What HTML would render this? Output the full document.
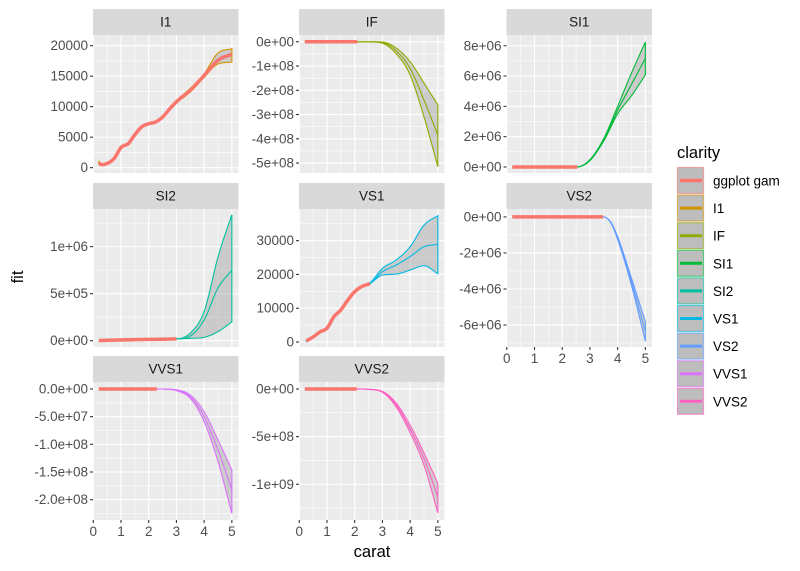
<!DOCTYPE html>
<html><head><meta charset="utf-8">
<style>
body{margin:0;background:#fff;}
svg{display:block;font-family:"Liberation Sans",Arial,sans-serif;}
</style></head>
<body>
<svg id="chart" width="800" height="571" viewBox="0 0 800 571" xmlns="http://www.w3.org/2000/svg"></svg>
<script>
// ---- data ----
const clarities = ["I1","IF","SI1","SI2","VS1","VS2","VVS1","VVS2"];
const colors = ["#D39200","#93AA00","#00BA38","#00C19F","#00B9E3","#619CFF","#DB72FB","#FF61C3"];
const gamColor = "#F8766D";
const legendLabels = ["ggplot gam","I1","IF","SI1","SI2","VS1","VS2","VVS1","VVS2"];
const legendColors = ["#F8766D","#D39200","#93AA00","#00BA38","#00C19F","#00B9E3","#619CFF","#DB72FB","#FF61C3"];
const xTicks = [0,1,2,3,4,5];
const maxCarat = [5.01,2.29,2.54,3.0,2.55,3.48,2.29,2.07];

const xsI1 = [0.2,0.3,0.5,0.75,1,1.1,1.25,1.5,1.75,2,2.25,2.5,2.75,3,3.5,4,4.5,5];
const fitI1 = [800,500,700,1500,3300,3600,3900,5400,6700,7200,7500,8300,9600,10800,12700,15100,17600,18600];
const loI1 = [600,400,600,1400,3200,3500,3800,5300,6600,7100,7400,8200,9400,10600,12400,14800,17000,17300];
const hiI1 = [1000,600,800,1600,3400,3700,4000,5500,6800,7300,7600,8400,9800,11000,13000,15400,18800,19500];

const xsIF = [0.2,2.3,2.5,3,3.5,4,4.5,5];
const fitIF = [0,0,0,-0.03e8,-0.38e8,-1.1e8,-2.4e8,-3.85e8];
const loIF = [0,0,-0.002e8,-0.06e8,-0.5e8,-1.37e8,-3.1e8,-5.15e8];
const hiIF = [0,0,0,-0.01e8,-0.26e8,-0.82e8,-1.7e8,-2.6e8];

const xsSI1 = [0.2,2.54,3,3.5,4,4.5,5];
const fitSI1 = [0,0,0.45e6,1.8e6,3.75e6,5.45e6,7.17e6];
const loSI1 = [0,0,0.42e6,1.72e6,3.5e6,4.7e6,6.07e6];
const hiSI1 = [0,0,0.48e6,1.88e6,4.0e6,6.2e6,8.25e6];

const xsSI2 = [0.2,1,2,3,3.5,4,4.5,5];
const fitSI2 = [2e3,8e3,14e3,20e3,50e3,220e3,560e3,750e3];
const loSI2 = [2e3,8e3,14e3,20e3,25e3,36e3,96e3,200e3];
const hiSI2 = [2e3,8e3,14e3,20e3,80e3,310e3,890e3,1340e3];

const xsVS1 = [0.25,0.5,0.75,1,1.25,1.5,1.75,2,2.25,2.55,3,3.5,4,4.5,5];
const fitVS1 = [300,1500,3000,4100,7500,9500,12400,14900,16400,17400,20800,22800,25300,28200,28900];
const loVS1 = [200,1400,2900,4000,7400,9400,12300,14800,16300,17300,19800,20100,21300,22600,20200];
const hiVS1 = [400,1600,3100,4200,7600,9600,12500,15000,16500,17500,21800,24300,28200,34600,37400];

const xsVS2 = [0.2,3.48,3.75,4,4.5,5];
const fitVS2 = [0,0,-0.3e6,-1.18e6,-3.6e6,-6.35e6];
const loVS2 = [0,0,-0.32e6,-1.25e6,-3.8e6,-6.9e6];
const hiVS2 = [0,0,-0.28e6,-1.1e6,-3.4e6,-5.8e6];

const xsVVS1 = [0.2,2.29,2.6,3,3.5,4,4.5,5];
const fitVVS1 = [0,0,-0.003e8,-0.02e8,-0.14e8,-0.5e8,-1.1e8,-1.82e8];
const loVVS1 = [0,0,-0.004e8,-0.03e8,-0.17e8,-0.59e8,-1.31e8,-2.25e8];
const hiVVS1 = [0,0,-0.002e8,-0.015e8,-0.11e8,-0.41e8,-0.92e8,-1.46e8];

const xsVVS2 = [0.2,2.07,2.5,3,3.5,4,4.5,5];
const fitVVS2 = [0,0,-0.004e9,-0.03e9,-0.17e9,-0.42e9,-0.73e9,-1.13e9];
const loVVS2 = [0,0,-0.005e9,-0.035e9,-0.19e9,-0.46e9,-0.8e9,-1.3e9];
const hiVVS2 = [0,0,-0.003e9,-0.025e9,-0.15e9,-0.38e9,-0.67e9,-0.99e9];

const yTickVals = [
 [0,5000,10000,15000,20000],
 [0,-1e8,-2e8,-3e8,-4e8,-5e8],
 [0,2e6,4e6,6e6,8e6],
 [0,5e5,1e6],
 [0,10000,20000,30000],
 [0,-2e6,-4e6,-6e6],
 [0,-5e7,-1e8,-1.5e8,-2e8],
 [0,-5e8,-1e9]
];
const yTickLabels = [
 ["0","5000","10000","15000","20000"],
 ["0e+00","-1e+08","-2e+08","-3e+08","-4e+08","-5e+08"],
 ["0e+00","2e+06","4e+06","6e+06","8e+06"],
 ["0e+00","5e+05","1e+06"],
 ["0","10000","20000","30000"],
 ["0e+00","-2e+06","-4e+06","-6e+06"],
 ["0.0e+00","-5.0e+07","-1.0e+08","-1.5e+08","-2.0e+08"],
 ["0e+00","-5e+08","-1e+09"]
];
const yDomains = [[-870,21750],[-5.41e8,0.28e8],[-0.40e6,8.71e6],[-0.67e5,14.0e5],[-1480,39380],[-7.22e6,0.44e6],[-2.367e8,0.126e8],[-1.375e9,0.073e9]];
const seriesXs = [xsI1,xsIF,xsSI1,xsSI2,xsVS1,xsVS2,xsVVS1,xsVVS2];
const seriesFit = [fitI1,fitIF,fitSI1,fitSI2,fitVS1,fitVS2,fitVVS1,fitVVS2];
const seriesLo = [loI1,loIF,loSI1,loSI2,loVS1,loVS2,loVVS1,loVVS2];
const seriesHi = [hiI1,hiIF,hiSI1,hiSI2,hiVS1,hiVS2,hiVVS1,hiVVS2];

// ---- layout ----
const NS="http://www.w3.org/2000/svg";
const svg=document.getElementById('chart');
function mk(tag,attrs,parent){const e=document.createElementNS(NS,tag);for(const k in attrs)e.setAttribute(k,attrs[k]);(parent||svg).appendChild(e);return e;}
const colLeft=[93,299,506.5], rowTop=[35,209,382], PW=145.5, PH=138;
const xDom=[-0.01,5.24];
const TICK_FS='13.5';

function monotone(xs,ys,n){
  const m=xs.length, d=[], t=new Array(m);
  for(let i=0;i<m-1;i++) d.push((ys[i+1]-ys[i])/(xs[i+1]-xs[i]));
  t[0]=d[0]; t[m-1]=d[m-2];
  for(let i=1;i<m-1;i++){ if(d[i-1]*d[i]<=0) t[i]=0; else t[i]=(d[i-1]+d[i])/2; }
  for(let i=0;i<m-1;i++){ if(d[i]===0){t[i]=0;t[i+1]=0;continue;} const a=t[i]/d[i],b=t[i+1]/d[i],s=a*a+b*b; if(s>9){const tt=3/Math.sqrt(s);t[i]=tt*a*d[i];t[i+1]=tt*b*d[i];} }
  const out=[];
  for(let i=0;i<m-1;i++){const h=xs[i+1]-xs[i];
    for(let k=0;k<n;k++){const u=k/n,h00=2*u*u*u-3*u*u+1,h10=u*u*u-2*u*u+u,h01=-2*u*u*u+3*u*u,h11=u*u*u-u*u;
      out.push([xs[i]+u*h, h00*ys[i]+h10*h*t[i]+h01*ys[i+1]+h11*h*t[i+1]]);}}
  out.push([xs[m-1],ys[m-1]]);
  return out;
}

clarities.forEach((c,pi)=>{
  const col = pi<3?pi:(pi<6?pi-3:pi-6), row = pi<3?0:(pi<6?1:2);
  const L=colLeft[col], T=rowTop[row];
  const g=mk('g',{});
  
  
  const sx=v=>L+(v-xDom[0])/(xDom[1]-xDom[0])*PW;
  const yd=yDomains[pi];
  const sy=v=>T+PH-(v-yd[0])/(yd[1]-yd[0])*PH;
  const strip=mk('rect',{x:L,y:T-26,width:PW,height:26,fill:'#d9d9d9'},g);
  
  
  const st=mk('text',{x:L+PW/2,y:T-8.5,'text-anchor':'middle','font-size':'13.5',fill:'#1a1a1a'},g); st.textContent=c;
  
  
  const bg=mk('rect',{x:L,y:T,width:PW,height:PH,fill:'#ebebeb'},g);
  
  
  const clipId='clip'+pi; const cp=mk('clipPath',{id:clipId},g); mk('rect',{x:L,y:T,width:PW,height:PH},cp);
  for(let i=0;i<xTicks.length-1;i++){const xv=sx(xTicks[i]+0.5); mk('line',{x1:xv,x2:xv,y1:T,y2:T+PH,stroke:'#fff','stroke-width':0.55},g);}
  const yt=yTickVals[pi];
  const step=Math.abs(yt[1]-yt[0]);
  const mn=Math.min(...yt)-step, mx=Math.max(...yt)+step;
  for(let v=mn+step/2; v<=mx; v+=step){const yy=sy(v); if(yy>T&&yy<T+PH) mk('line',{x1:L,x2:L+PW,y1:yy,y2:yy,stroke:'#fff','stroke-width':0.55},g);}
  xTicks.forEach(t=>{const xv=sx(t); mk('line',{x1:xv,x2:xv,y1:T,y2:T+PH,stroke:'#fff','stroke-width':1.1},g);});
  yt.forEach((t,i)=>{const yy=sy(t); mk('line',{x1:L,x2:L+PW,y1:yy,y2:yy,stroke:'#fff','stroke-width':1.1},g);
    mk('line',{x1:L-3,x2:L,y1:yy,y2:yy,stroke:'#333','stroke-width':1.1},g);
    const tl=mk('text',{x:L-5,y:yy+4.5,'text-anchor':'end','font-size':TICK_FS,fill:'#4d4d4d'},g); tl.textContent=yTickLabels[pi][i];
    
    
  });
  if(row===2 || pi===5){
    xTicks.forEach(t=>{const xv=sx(t); mk('line',{x1:xv,x2:xv,y1:T+PH,y2:T+PH+3,stroke:'#333','stroke-width':1.1},g);
      const tl=mk('text',{x:xv,y:T+PH+16,'text-anchor':'middle','font-size':TICK_FS,fill:'#4d4d4d'},g); tl.textContent=t;
      
      });
  }
  const dg=mk('g',{'clip-path':'url(#'+clipId+')'},g);
  const xs=seriesXs[pi];
  const F=monotone(xs,seriesFit[pi],10), LO=monotone(xs,seriesLo[pi],10), HI=monotone(xs,seriesHi[pi],10);
  const pts=a=>a.map(p=>sx(p[0]).toFixed(2)+','+sy(p[1]).toFixed(2)).join(' ');
  const rib=mk('polygon',{points:pts(HI)+' '+pts(LO.slice().reverse()),fill:'rgba(153,153,153,0.4)',stroke:colors[pi],'stroke-width':1.1},dg);
  
  
  const fl=mk('polyline',{points:pts(F),fill:'none',stroke:colors[pi],'stroke-width':1.1},dg);
  
  
  const gm=F.filter(p=>p[0]<=maxCarat[pi]+1e-9);
  const gl=mk('polyline',{points:pts(gm),fill:'none',stroke:gamColor,'stroke-width':3.5},dg);
  
  
});

const xt=mk('text',{x:372,y:557,'text-anchor':'middle','font-size':'16.5',fill:'#000'}); xt.textContent='carat';


const ytl=mk('text',{x:23,y:277,'text-anchor':'middle','font-size':'16.5',fill:'#000',transform:'rotate(-90 23 277)'}); ytl.textContent='fit';



const lg=mk('g',{});


const ltitle=mk('text',{x:677,y:158,'font-size':'16.5',fill:'#000'},lg); ltitle.textContent='clarity';


legendLabels.forEach((lab,i)=>{
  const y=167+i*27.6;
  const e=mk('g',{},lg);
  
  
  mk('rect',{x:677.5,y:y+0.5,width:26,height:26,fill:'#bdbdbd',stroke:legendColors[i],'stroke-opacity':0.6,'stroke-width':1.2},e);
  mk('line',{x1:680,x2:702,y1:y+13.5,y2:y+13.5,stroke:legendColors[i],'stroke-width':i===0?3.5:3},e);
  const t=mk('text',{x:713,y:y+18.5,'font-size':'13.5',fill:'#000'},e); t.textContent=lab;
});
</script>
</body></html>
